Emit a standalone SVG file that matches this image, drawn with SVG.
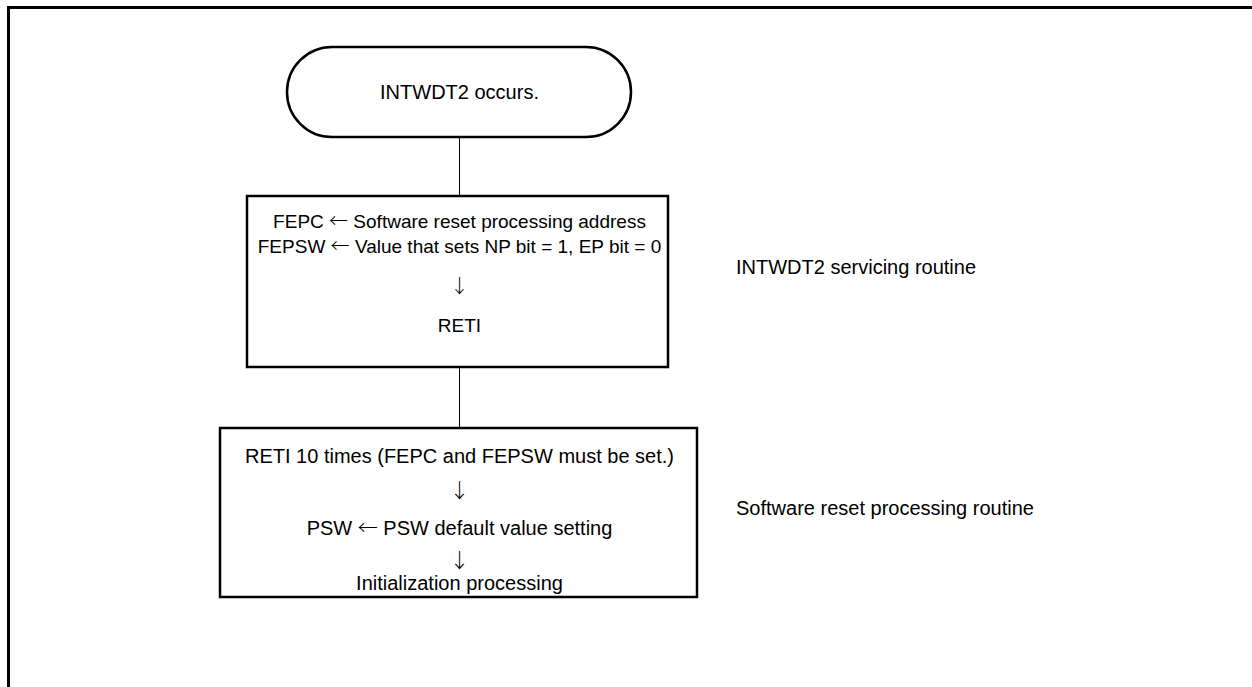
<svg xmlns="http://www.w3.org/2000/svg" width="1252" height="687" viewBox="0 0 1252 687">
<style>
.frame{fill:none;stroke:#000;stroke-width:3}
.node{fill:#fff;stroke:#000;stroke-width:2.5}
.conn{stroke:#000;stroke-width:1;fill:none}
text{font-family:"Liberation Sans",Arial,sans-serif;font-size:20px;fill:#000}
.s{font-size:19px}
.c{text-anchor:middle}
.ar{font-family:"Noto Sans CJK SC","Liberation Sans",sans-serif;font-weight:300}
</style>
<rect width="1252" height="687" fill="#fff"/>
<path class="frame" d="M8.5,687 V7.5 H1252"/>
<g id="connectors">
<line class="conn" x1="459.5" y1="137" x2="459.5" y2="196"/>
<line class="conn" x1="459.5" y1="367" x2="459.5" y2="428"/>
</g>
<g id="start">
<rect class="node" x="287" y="47" width="344" height="90" rx="45" ry="45"/>
<text class="c" x="459.5" y="99">INTWDT2 occurs.</text>
</g>
<g id="intwdt2-routine">
<rect class="node" x="247" y="196" width="421" height="171"/>
<text class="c s" x="459.5" y="228">FEPC <tspan class="ar">←</tspan> Software reset processing address</text>
<text class="c s" x="459.5" y="253">FEPSW <tspan class="ar">←</tspan> Value that sets NP bit = 1, EP bit = 0</text>
<text class="c s ar" x="459.5" y="293">↓</text>
<text class="c s" x="459.5" y="332">RETI</text>
</g>
<g id="reset-routine">
<rect class="node" x="220" y="428" width="477" height="169"/>
<text class="c" x="459.5" y="463">RETI 10 times (FEPC and FEPSW must be set.)</text>
<text class="c ar" x="459.5" y="498">↓</text>
<text class="c" x="459.5" y="535">PSW <tspan class="ar">←</tspan> PSW default value setting</text>
<text class="c ar" x="459.5" y="568">↓</text>
<text class="c" x="459.5" y="590">Initialization processing</text>
</g>
<g id="labels">
<text x="736" y="274">INTWDT2 servicing routine</text>
<text x="736" y="515">Software reset processing routine</text>
</g>
</svg>
